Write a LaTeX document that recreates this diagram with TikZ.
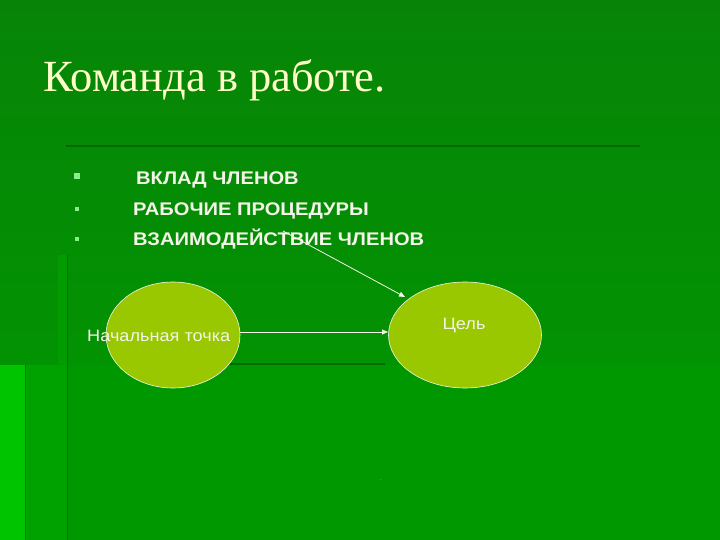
\documentclass[tikz,border=0pt]{standalone}
\usepackage{fontspec}
\setmainfont{Liberation Serif}
\setsansfont{Liberation Sans}
\newfontfamily\widesans[FakeStretch=1.1]{Liberation Sans}
\usetikzlibrary{arrows.meta,shapes.geometric}
\definecolor{bgtop}{HTML}{078407}
\definecolor{bgbot}{HTML}{009A00}
\definecolor{lowbg}{HTML}{009800}
\definecolor{strip}{HTML}{00C400}
\definecolor{strip2}{HTML}{00A200}
\definecolor{darkline}{HTML}{006A00}
\definecolor{titlecol}{HTML}{FFFFC8}
\definecolor{ellfill}{HTML}{99C800}
\definecolor{bullet}{HTML}{88F088}
\definecolor{txt}{HTML}{F4F4E8}
\tikzset{
  goal/.style={ellipse, draw=txt, line width=0.6pt, fill=ellfill, inner sep=0pt},
  item/.style={anchor=west, inner sep=0pt, text=txt, font=\widesans\bfseries\fontsize{18.3}{20}\selectfont},
  blt/.style={fill=bullet, inner sep=0pt},
  conn/.style={draw=txt, line width=0.8pt, -{Triangle[length=6pt,width=5pt]}},
  deco/.style={draw=darkline, line width=2.5pt},
  lbl/.style={inner sep=0pt, text=txt, font=\widesans\fontsize{16.5}{18}\selectfont}
}
\begin{document}
\begin{tikzpicture}[x=1pt,y=-1pt]
\useasboundingbox (0,0) rectangle (720,540);
% background
\shade[top color=bgtop, bottom color=bgbot] (0,0) rectangle (720,540);
\fill[lowbg] (25,365) rectangle (720,540);
\fill[strip2] (25,365) rectangle (67,540);
\fill[strip] (0,365) rectangle (25,540);
\fill[strip2!80!bgtop] (58,255) rectangle (67,365);
\draw[darkline!80!lowbg, line width=1pt] (67,255) -- (67,540);
\draw[darkline!60!strip2, line width=1pt] (25,365) -- (25,540);
\draw[deco] (66,146) -- (640,146);
\draw[deco] (225,364) -- (385,364);
% title
\node[anchor=base west, inner sep=0pt, text=titlecol, font=\fontsize{44.5}{50}\selectfont] (title) at (43,92) {Команда в работе.};
% bullets
\node[blt, minimum size=6pt] (b1) at (77,176) {};
\node[blt, minimum size=4pt] (b2) at (77,209) {};
\node[blt, minimum size=4pt] (b3) at (77,239) {};
\node[item] (t1) at (136,179.5) {ВКЛАД ЧЛЕНОВ};
\node[item] (t2) at (133,210.5) {РАБОЧИЕ ПРОЦЕДУРЫ};
\node[item] (t3) at (133,239.5) {ВЗАИМОДЕЙСТВИЕ ЧЛЕНОВ};
% ellipses
\node[goal, minimum width=134pt, minimum height=106pt] (start) at (173,335) {};
\node[goal, minimum width=153pt, minimum height=106pt] (goalnode) at (465,335) {};
\node[lbl, anchor=west] (startlbl) at (87,336) {Начальная точка};
\node[lbl] (goallbl) at (464,325) {Цель};
% connectors
\coordinate (a1) at (240,332);
\coordinate (a2) at (388,332);
\draw[conn] (a1) -- (a2);
\coordinate (c1) at (283,231);
\coordinate (c2) at (405,297);
\draw[conn] (c1) -- (c2);
% tiny dot
\node[inner sep=0pt, text=txt!60!lowbg, font=\sffamily\fontsize{6}{6}\selectfont] (dot) at (381,480) {.};
\end{tikzpicture}
\end{document}
